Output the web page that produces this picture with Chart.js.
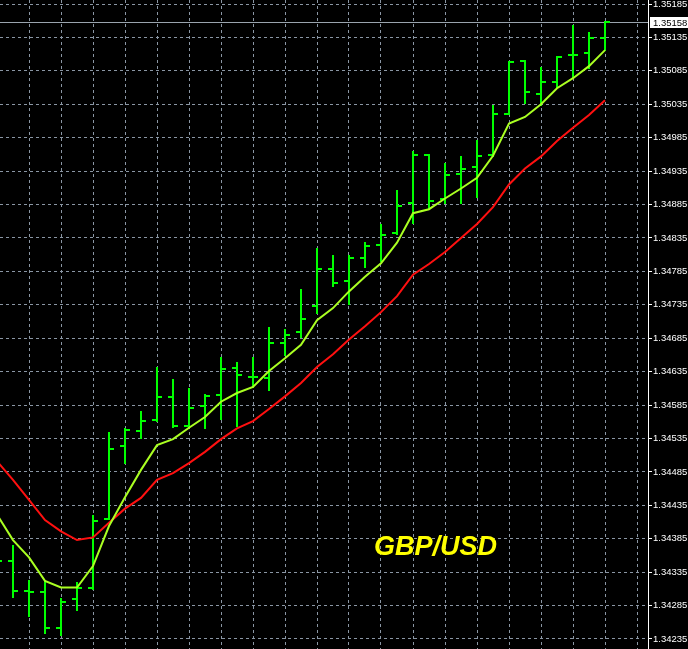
<!DOCTYPE html>
<html>
<head>
<meta charset="utf-8">
<script src="https://cdn.jsdelivr.net/npm/chart.js@4/dist/chart.umd.min.js"></script>
<style>
html,body{margin:0;padding:0;background:#000;overflow:hidden}
canvas{display:block}
</style>
</head>
<body>
<canvas id="c" width="688" height="649"></canvas>
<script>
// ---- data ----
const symbol = 'GBP/USD';
const barIndex = [-1,0,1,2,3,4,5,6,7,8,9,10,11,12,13,14,15,16,17,18,19,20,21,22,23,24,25,26,27,28,29,30,31,32,33,34,35,36,37];
const opens  = [1.34360,1.34351,1.34307,1.34306,1.34251,1.34295,1.34311,1.34415,1.34524,1.34546,1.34562,1.34597,1.34554,1.34583,1.34600,1.34640,1.34627,1.34626,1.34678,1.34695,1.34733,1.34788,1.34770,1.34805,1.34824,1.34842,1.34887,1.34959,1.34893,1.34931,1.34941,1.34959,1.35021,1.35099,1.35051,1.35068,1.35108,1.35111,1.35134];
const highs  = [1.34372,1.34374,1.34322,1.34322,1.34295,1.34318,1.34419,1.34543,1.34549,1.34575,1.34640,1.34622,1.34609,1.34600,1.34656,1.34648,1.34656,1.34700,1.34698,1.34757,1.34818,1.34808,1.34808,1.34827,1.34854,1.34905,1.34963,1.34959,1.34945,1.34956,1.34980,1.35032,1.35098,1.35100,1.35090,1.35105,1.35152,1.35141,1.35158];
const lows   = [1.34340,1.34298,1.34269,1.34244,1.34241,1.34279,1.34310,1.34414,1.34498,1.34535,1.34561,1.34552,1.34552,1.34550,1.34564,1.34553,1.34612,1.34607,1.34660,1.34687,1.34722,1.34763,1.34736,1.34791,1.34800,1.34841,1.34858,1.34878,1.34887,1.34888,1.34896,1.34958,1.35021,1.35037,1.35034,1.35061,1.35075,1.35090,1.35116];
const closes = [1.34351,1.34307,1.34306,1.34251,1.34290,1.34311,1.34412,1.34519,1.34548,1.34561,1.34597,1.34553,1.34581,1.34598,1.34639,1.34630,1.34627,1.34678,1.34690,1.34714,1.34788,1.34768,1.34805,1.34823,1.34839,1.34883,1.34959,1.34891,1.34929,1.34938,1.34958,1.35021,1.35098,1.35053,1.35069,1.35105,1.35108,1.35134,1.35158];
const fastMA = [1.34421,1.34383,1.34357,1.34322,1.34312,1.34312,1.34344,1.34404,1.34447,1.34488,1.34525,1.34534,1.34551,1.34567,1.34590,1.34603,1.34612,1.34636,1.34655,1.34675,1.34712,1.34730,1.34755,1.34777,1.34797,1.34828,1.34872,1.34878,1.34894,1.34909,1.34925,1.34958,1.35006,1.35016,1.35035,1.35059,1.35074,1.35092,1.35116];
const slowMA = [1.34501,1.34473,1.34443,1.34413,1.34396,1.34383,1.34387,1.34409,1.34430,1.34446,1.34473,1.34483,1.34498,1.34515,1.34534,1.34550,1.34561,1.34579,1.34598,1.34618,1.34642,1.34661,1.34683,1.34703,1.34724,1.34748,1.34780,1.34796,1.34814,1.34835,1.34856,1.34881,1.34915,1.34939,1.34957,1.34980,1.35000,1.35019,1.35041];
const yTicks = [1.34235,1.34285,1.34335,1.34385,1.34435,1.34485,1.34535,1.34585,1.34635,1.34685,1.34735,1.34785,1.34835,1.34885,1.34935,1.34985,1.35035,1.35085,1.35135,1.35185];
const xGridTicks = [1,3,5,7,9,11,13,15,17,19,21,23,25,27,29,31,33,35,37,39];
const lastPrice = 1.35158;

// ---- styles ----
const GRID = '#8a96a4';
const BAR = '#00ff00';

// choose an axis font that fits the 40px price column
const probe = document.createElement('canvas').getContext('2d');
probe.font = '11px "Liberation Sans Narrow", monospace';
const wNarrow = probe.measureText('1.35185').width;
probe.font = '11px monospace';
const wMono = probe.measureText('1.35185').width;
const hasNarrow = Math.abs(wNarrow - wMono) > 0.5;
const AXIS_FAMILY = hasNarrow ? '"Liberation Sans Narrow"' : '"Liberation Sans", Arial, sans-serif';
const AXIS_SIZE = hasNarrow ? 11.5 : 9.5;

const ohlcPlugin = {
  id: 'ohlc',
  beforeDatasetsDraw(chart) {
    const {ctx, chartArea: a, scales: {x, y}} = chart;
    ctx.save();
    ctx.beginPath();
    ctx.rect(a.left, a.top, a.right - a.left, a.bottom - a.top);
    ctx.clip();
    const lp = Math.round(y.getPixelForValue(lastPrice));
    ctx.fillStyle = '#9aa4ae';
    ctx.fillRect(a.left, lp, a.right - a.left, 1);
    ctx.fillStyle = BAR;
    for (let i = 0; i < barIndex.length; i++) {
      const px = Math.round(x.getPixelForValue(barIndex[i]));
      const hy = Math.round(y.getPixelForValue(highs[i]));
      const ly = Math.round(y.getPixelForValue(lows[i]));
      const oy = Math.round(y.getPixelForValue(opens[i]));
      const cy = Math.round(y.getPixelForValue(closes[i]));
      ctx.fillRect(px - 1, hy - 1, 2, ly - hy + 2);
      ctx.fillRect(px - 5, oy - 1, 4, 2);
      ctx.fillRect(px + 1, cy - 1, 4, 2);
    }
    ctx.restore();
  },
  afterDraw(chart) {
    const {ctx, chartArea: a, scales: {y}} = chart;
    ctx.save();
    const lp = Math.round(y.getPixelForValue(lastPrice));
    ctx.fillStyle = '#ffffff';
    ctx.fillRect(a.right + 2, lp - 5, 40, 11);
    ctx.fillStyle = '#000000';
    ctx.font = AXIS_SIZE + 'px ' + AXIS_FAMILY;
    ctx.textBaseline = 'middle';
    ctx.textAlign = 'left';
    ctx.fillText(lastPrice.toFixed(5), a.right + 5, lp + 1);
    ctx.fillStyle = '#ffff00';
    ctx.font = 'italic bold 27px "Liberation Sans", Arial, sans-serif';
    ctx.textBaseline = 'alphabetic';
    ctx.fillText(symbol, a.left + 374, 555);
    ctx.restore();
  }
};

const toPts = arr => arr.map((v, i) => ({x: barIndex[i], y: v}));

new Chart(document.getElementById('c'), {
  type: 'line',
  data: {
    datasets: [
      {label: 'Fast MA', data: toPts(fastMA), borderColor: '#aaff22', borderWidth: 2, pointRadius: 0, tension: 0, fill: false},
      {label: 'Slow MA', data: toPts(slowMA), borderColor: '#ff1010', borderWidth: 2, pointRadius: 0, tension: 0, fill: false}
    ]
  },
  options: {
    responsive: false,
    animation: false,
    devicePixelRatio: 1,
    layout: {padding: 0},
    plugins: {legend: {display: false}, tooltip: {enabled: false}, title: {display: false}},
    scales: {
      x: {
        type: 'linear',
        min: -0.8125,
        max: 39.6875,
        grid: {color: GRID, lineWidth: 1, drawTicks: false},
        border: {display: false, dash: [3, 3]},
        ticks: {display: false},
        afterBuildTicks: s => { s.ticks = xGridTicks.map(v => ({value: v})); },
        afterFit: s => { s.height = 0; s.paddingLeft = 0; s.paddingRight = 0; }
      },
      y: {
        type: 'linear',
        position: 'right',
        min: 1.3422,
        max: 1.35191,
        grid: {color: GRID, lineWidth: 1, drawTicks: true, tickLength: 4, tickColor: '#ffffff', tickWidth: 1, tickBorderDash: []},
        border: {display: true, color: '#ffffff', width: 1, dash: [3, 3]},
        ticks: {
          color: '#ffffff',
          font: {family: AXIS_FAMILY, size: AXIS_SIZE},
          padding: 1,
          autoSkip: false,
          callback: v => Number(v).toFixed(5)
        },
        afterBuildTicks: s => { s.ticks = yTicks.map(v => ({value: v})); },
        afterFit: s => { s.width = 40; s.paddingTop = 0; s.paddingBottom = 0; }
      }
    }
  },
  plugins: [ohlcPlugin]
});
</script>
</body>
</html>
